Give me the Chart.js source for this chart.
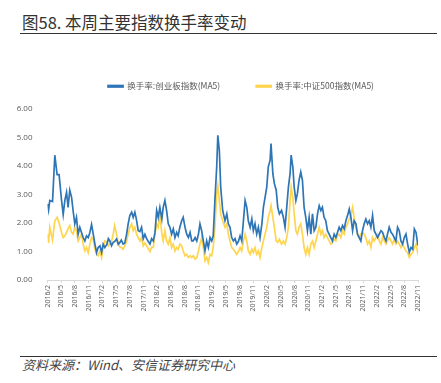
<!DOCTYPE html>
<html>
<head>
<meta charset="utf-8">
<script src="https://cdn.jsdelivr.net/npm/chart.js@4.4.1/dist/chart.umd.min.js"></script>
<style>
  html, body { margin: 0; padding: 0; background: #fff; }
  body { width: 441px; height: 383px; position: relative; overflow: hidden; }
  #title { position: absolute; left: 22px; top: 12px; font: 16.5px "Noto Sans CJK SC", sans-serif; color: #333; line-height: 20px; white-space: nowrap; }
  .rule { position: absolute; left: 20px; width: 417px; height: 0; border-top: 1px solid #333; }
  #src { position: absolute; left: 22px; top: 357px; font: italic 13px "Noto Sans CJK SC", sans-serif; color: #444; line-height: 16px; white-space: nowrap; }
  #wrap { position: absolute; left: 0; top: 46px; width: 441px; height: 269px; }
</style>
</head>
<body>
<div id="title">图58. 本周主要指数换手率变动</div>
<div class="rule" style="top:33px"></div>
<div id="wrap"><canvas id="c"></canvas></div>
<div class="rule" style="top:356px"></div>
<div id="src">资料来源：Wind、安信证券研究中心</div>
<script>
const seriesNames = ["换手率:创业板指数(MA5)", "换手率:中证500指数(MA5)"];
const yTicks = [0, 1, 2, 3, 4, 5, 6];
const dates = [
"2016/2/1","2016/2/8","2016/2/16","2016/3/4","2016/3/19","2016/4/4","2016/4/17","2016/5/3","2016/5/14","2016/5/25",
"2016/6/6","2016/6/16","2016/6/27","2016/7/9","2016/7/19","2016/7/30","2016/8/11","2016/8/22","2016/9/3","2016/9/14",
"2016/9/25","2016/10/6","2016/10/17","2016/10/28","2016/11/9","2016/11/20","2016/12/1","2016/12/12","2016/12/23","2017/1/3",
"2017/1/15","2017/1/26","2017/2/6","2017/2/17","2017/3/1","2017/3/10","2017/3/20","2017/4/1","2017/4/12","2017/4/21",
"2017/5/4","2017/5/15","2017/5/26","2017/6/5","2017/6/17","2017/6/28","2017/7/10","2017/7/20","2017/8/1","2017/8/13",
"2017/8/23","2017/9/4","2017/9/15","2017/9/26","2017/10/7","2017/10/18","2017/10/29","2017/11/10","2017/11/21","2017/12/2",
"2017/12/13","2017/12/24","2018/1/5","2018/1/16","2018/1/27","2018/2/7","2018/2/18","2018/3/1","2018/3/10","2018/3/21",
"2018/4/2","2018/4/13","2018/4/24","2018/5/5","2018/5/16","2018/5/27","2018/6/8","2018/6/18","2018/6/29","2018/7/11",
"2018/7/21","2018/8/3","2018/8/14","2018/8/25","2018/9/6","2018/9/17","2018/9/27","2018/10/9","2018/10/20","2018/10/31",
"2018/11/11","2018/11/22","2018/12/3","2018/12/14","2018/12/25","2019/1/6","2019/1/17","2019/1/28","2019/2/8","2019/2/19",
"2019/3/1","2019/3/8","2019/3/18","2019/3/27","2019/4/10","2019/4/25","2019/5/7","2019/5/17","2019/5/28","2019/6/9",
"2019/6/20","2019/7/1","2019/7/12","2019/7/23","2019/8/4","2019/8/15","2019/8/26","2019/9/7","2019/9/18","2019/9/28",
"2019/10/10","2019/10/21","2019/11/1","2019/11/12","2019/11/23","2019/12/4","2019/12/15","2019/12/27","2020/1/7","2020/1/18",
"2020/1/29","2020/2/9","2020/2/21","2020/2/27","2020/3/9","2020/3/19","2020/3/31","2020/4/11","2020/4/22","2020/5/6",
"2020/5/18","2020/5/29","2020/6/10","2020/6/21","2020/7/2","2020/7/9","2020/7/20","2020/7/29","2020/8/10","2020/8/20",
"2020/9/1","2020/9/12","2020/9/23","2020/10/4","2020/10/15","2020/10/26","2020/11/7","2020/11/18","2020/11/29","2020/12/10",
"2020/12/21","2021/1/2","2021/1/13","2021/1/24","2021/2/4","2021/2/15","2021/2/26","2021/3/7","2021/3/18","2021/3/29",
"2021/4/10","2021/4/21","2021/5/2","2021/5/13","2021/5/24","2021/6/5","2021/6/16","2021/6/27","2021/7/8","2021/7/19",
"2021/7/30","2021/8/11","2021/8/22","2021/9/2","2021/9/14","2021/9/24","2021/10/5","2021/10/16","2021/10/27","2021/11/8",
"2021/11/19","2021/11/30","2021/12/11","2021/12/22","2022/1/3","2022/1/14","2022/1/25","2022/2/6","2022/2/17","2022/2/28",
"2022/3/9","2022/3/20","2022/3/31","2022/4/11","2022/4/22","2022/5/4","2022/5/14","2022/5/25","2022/6/6","2022/6/17",
"2022/6/28","2022/7/9","2022/7/20","2022/8/1","2022/8/12","2022/8/23","2022/9/4","2022/9/15","2022/9/26","2022/10/7",
"2022/10/18","2022/10/29","2022/11/9"
];
const cybTurnover = [
2.67,2.45,2.79,2.75,4.38,3.70,3.70,2.80,2.30,2.80,
3.08,2.55,3.15,2.90,2.43,1.97,2.20,1.61,1.85,1.67,
1.49,1.37,1.55,1.49,1.67,1.95,1.61,1.26,0.96,1.14,
1.20,0.97,1.26,1.14,1.26,1.45,1.37,1.20,1.32,1.35,
1.44,1.25,1.32,1.40,1.26,1.30,1.61,1.97,2.26,2.38,
2.20,2.38,2.10,1.73,1.70,1.85,1.45,1.60,1.45,1.35,
1.26,1.45,1.37,1.67,2.44,2.20,2.55,2.14,2.55,2.79,
2.44,1.97,1.85,1.61,1.79,1.49,1.67,1.55,1.85,2.08,
2.20,1.85,1.61,1.49,1.67,1.37,1.37,1.49,1.37,1.61,
1.97,1.73,1.37,1.02,1.37,1.14,1.49,1.37,1.55,2.79,
4.00,5.08,4.55,3.26,2.44,2.08,2.32,1.97,1.85,1.49,
1.37,1.45,1.26,1.35,1.55,1.37,2.08,2.79,2.55,2.08,
1.85,2.14,1.73,1.97,1.61,1.85,1.49,1.97,2.55,2.90,
3.26,3.97,4.20,4.79,3.73,3.38,3.15,2.55,2.32,2.44,
2.20,1.85,2.55,3.26,3.73,4.38,3.97,3.26,2.79,3.03,
3.50,3.79,3.50,2.55,2.20,1.73,2.20,1.61,2.32,1.73,
1.85,2.32,2.61,2.44,2.55,2.20,2.08,1.73,1.61,1.49,
1.37,1.61,1.49,1.67,1.85,1.73,1.91,1.79,2.08,2.26,
2.49,2.20,1.73,2.08,1.97,1.61,1.49,1.37,1.73,1.97,
2.14,1.97,2.08,1.85,2.26,1.73,1.61,1.49,1.61,1.73,
1.67,1.49,1.37,1.61,1.85,1.67,1.61,1.49,1.37,1.85,
1.73,1.37,1.26,1.49,1.61,1.26,0.97,1.14,1.08,1.79,
1.67,1.26,1.32
];
const zz500Turnover = [
1.61,1.30,1.85,1.40,2.08,2.20,2.00,1.67,1.49,1.55,
1.67,1.80,1.91,1.67,1.61,1.85,1.73,1.37,1.49,1.61,
1.26,1.02,1.14,0.96,1.26,1.49,1.43,1.08,0.90,0.85,
1.02,0.79,1.14,1.37,1.32,1.20,1.26,1.35,1.61,1.91,
1.61,1.30,1.14,1.15,1.08,1.20,1.37,1.61,1.85,1.97,
1.73,1.85,1.61,1.49,1.37,1.49,1.20,1.30,1.20,1.10,
1.00,1.15,1.14,1.61,1.97,1.85,2.32,1.61,1.37,1.73,
1.37,1.26,1.49,1.14,1.26,1.02,1.14,1.08,1.26,1.20,
1.02,0.85,0.90,0.79,0.85,0.79,0.85,0.73,0.79,1.02,
1.26,1.49,1.14,0.67,0.79,0.61,0.90,0.85,1.14,1.85,
3.03,3.32,2.79,2.32,2.08,1.85,1.97,1.61,1.37,1.14,
1.08,1.00,0.90,1.00,1.14,1.02,1.37,1.61,1.37,1.02,
0.90,1.08,0.96,1.14,0.90,1.02,0.79,1.14,1.37,1.61,
1.85,2.20,2.44,2.61,2.20,1.85,1.37,1.32,1.43,1.26,
1.37,1.26,1.49,1.85,2.79,3.26,2.90,2.32,1.73,1.61,
1.85,1.97,1.61,1.14,0.90,1.14,0.90,1.26,1.37,1.14,
1.37,1.61,1.85,1.61,1.73,1.49,1.61,1.49,1.37,1.26,
1.32,1.43,1.37,1.55,1.61,1.49,1.73,1.61,1.85,1.97,
2.14,2.26,2.55,2.20,1.85,1.61,1.49,1.61,1.67,1.61,
1.49,1.26,1.37,1.14,1.49,1.37,1.49,1.61,1.37,1.26,
1.49,1.37,1.26,1.37,1.49,1.37,1.26,1.43,1.26,1.37,
1.26,1.14,1.26,1.14,1.02,0.96,0.79,0.90,0.96,1.14,
1.26,0.96,1.14
];
const startYear = 2016, startMonth = 2;
const lastTick = "2022/11";

function monthOffset(s) {
  const p = s.split("/").map(Number);
  return (p[0] - startYear) * 12 + (p[1] - startMonth) + ((p[2] || 1) - 1) / 30;
}
function tickLabel(v) {
  const t = startMonth - 1 + Math.round(v);
  return (startYear + Math.floor(t / 12)) + "/" + (t % 12 + 1);
}
const xMax = monthOffset(lastTick);
const toPts = arr => arr.map((v, i) => ({ x: monthOffset(dates[i]), y: v }));

const legendFix = {
  id: 'legendFix',
  beforeLayout(chart) {
    const lg = chart.legend;
    if (lg && !lg._patched) {
      const f = lg.fit.bind(lg);
      lg.fit = function () { f(); this.height = 63; };
      lg._patched = true;
    }
  },
  afterLayout(chart) {
    const lg = chart.legend;
    if (lg) { lg.left += 32; lg.right += 32; }
  }
};

new Chart(document.getElementById('c'), {
  type: 'line',
  data: {
    datasets: [
      { label: seriesNames[0], data: toPts(cybTurnover), borderColor: '#2E75B6', backgroundColor: '#2E75B6', borderWidth: 1.7, pointRadius: 0, tension: 0 },
      { label: seriesNames[1], data: toPts(zz500Turnover), borderColor: '#FFD54F', backgroundColor: '#FFD54F', borderWidth: 1.7, pointRadius: 0, tension: 0 }
    ]
  },
  options: {
    responsive: true,
    maintainAspectRatio: false,
    animation: false,
    events: [],
    layout: { padding: { left: 0, right: 23, top: 0, bottom: 0 } },
    plugins: {
      legend: {
        display: true,
        position: 'top',
        align: 'center',
        labels: {
          boxWidth: 15, boxHeight: 1.5, padding: 36,
          color: '#595959',
          font: { family: '"Noto Sans CJK SC", sans-serif', size: 8.5 }
        }
      },
      tooltip: { enabled: false }
    },
    scales: {
      x: {
        type: 'linear',
        min: 0, max: xMax,
        afterFit(s) { s.height = 35; },
        border: { display: true, color: '#D9D9D9', width: 1 },
        grid: { display: true, drawOnChartArea: false, drawTicks: true, tickLength: 3, color: '#D9D9D9' },
        ticks: {
          stepSize: 3, autoSkip: false, minRotation: 90, maxRotation: 90, padding: 2,
          color: '#595959', font: { family: '"Open Sans", sans-serif', size: 7 },
          callback: v => tickLabel(v)
        }
      },
      y: {
        min: yTicks[0], max: yTicks[yTicks.length - 1],
        afterFit(s) { s.width = 47.5; },
        border: { display: false },
        grid: { display: false },
        ticks: {
          stepSize: 1, padding: 7,
          color: '#595959', font: { family: '"Open Sans", sans-serif', size: 8 },
          callback: v => v.toFixed(2)
        }
      }
    }
  },
  plugins: [legendFix]
});
</script>
</body>
</html>
